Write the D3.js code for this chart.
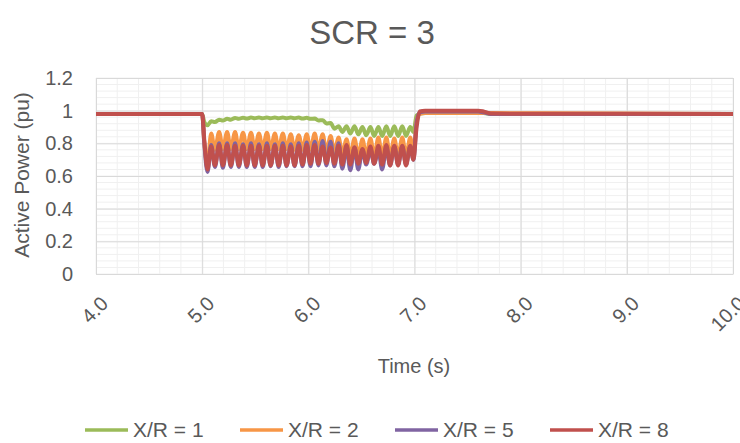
<!DOCTYPE html>
<html lang="en">
<head>
    <meta charset="utf-8">
    <title>SCR = 3</title>
    <script src="https://d3js.org/d3.v7.min.js"></script>
    <style>
        body { margin: 0; background: #fff; }
        text { font-family: "Liberation Sans", Arial, sans-serif; fill: #595959; }
    </style>
</head>
<body>
<svg width="740" height="443"></svg>
<script>
    // time samples (s), shared by all series
    var time = [4.0, 5.0, 5.02, 5.05,
        5.085, 5.12, 5.16, 5.195, 5.235, 5.27, 5.31, 5.345, 5.385, 5.42,
        5.46, 5.495, 5.535, 5.57, 5.61, 5.645, 5.685, 5.72, 5.76, 5.795,
        5.835, 5.87, 5.91, 5.945, 5.985, 6.02, 6.06, 6.095, 6.135, 6.17,
        6.21, 6.245, 6.285, 6.32, 6.36, 6.395, 6.435, 6.47, 6.51, 6.545,
        6.585, 6.62, 6.66, 6.695, 6.735, 6.77, 6.81, 6.845, 6.885, 6.92,
        6.96, 6.99, 7.02, 7.05, 7.10, 7.60, 7.65, 7.72, 10.0];

    var xr1 = [0.98, 0.98, 0.93, 0.91,
        0.935, 0.93, 0.945, 0.94, 0.95, 0.945, 0.955, 0.95, 0.957, 0.952,
        0.958, 0.953, 0.958, 0.953, 0.958, 0.953, 0.958, 0.953, 0.958, 0.953,
        0.958, 0.953, 0.958, 0.952, 0.956, 0.95, 0.952, 0.94, 0.942, 0.922,
        0.925, 0.89, 0.905, 0.87, 0.905, 0.86, 0.905, 0.855, 0.9, 0.85,
        0.9, 0.845, 0.9, 0.845, 0.905, 0.845, 0.905, 0.845, 0.905, 0.845,
        0.9, 0.87, 0.97, 0.982, 0.985, 0.985, 0.985, 0.98, 0.98];

    var xr2 = [0.98, 0.98, 0.80, 0.68,
        0.86, 0.76, 0.87, 0.765, 0.87, 0.765, 0.87, 0.765, 0.865, 0.765,
        0.865, 0.765, 0.86, 0.765, 0.865, 0.765, 0.86, 0.765, 0.86, 0.765,
        0.855, 0.76, 0.85, 0.76, 0.855, 0.76, 0.86, 0.76, 0.855, 0.75,
        0.845, 0.745, 0.835, 0.735, 0.825, 0.72, 0.83, 0.72, 0.825, 0.72,
        0.83, 0.72, 0.835, 0.72, 0.835, 0.72, 0.83, 0.72, 0.835, 0.72,
        0.835, 0.74, 0.94, 0.98, 0.985, 0.985, 0.985, 0.985, 0.98];

    var xr5 = [0.98, 0.98, 0.80, 0.625,
        0.79, 0.655, 0.80, 0.65, 0.80, 0.655, 0.80, 0.655, 0.795, 0.655,
        0.80, 0.655, 0.795, 0.655, 0.80, 0.66, 0.795, 0.655, 0.80, 0.66,
        0.795, 0.66, 0.80, 0.66, 0.805, 0.66, 0.81, 0.665, 0.815, 0.665,
        0.81, 0.66, 0.80, 0.645, 0.78, 0.635, 0.775, 0.64, 0.76, 0.67,
        0.765, 0.675, 0.76, 0.64, 0.775, 0.665, 0.78, 0.67, 0.78, 0.67,
        0.78, 0.70, 0.93, 0.99, 0.995, 0.995, 0.99, 0.98, 0.98];

    var xr8 = [0.98, 0.98, 0.82, 0.64,
        0.78, 0.665, 0.79, 0.665, 0.79, 0.665, 0.785, 0.665, 0.785, 0.665,
        0.785, 0.665, 0.785, 0.665, 0.785, 0.665, 0.785, 0.665, 0.785, 0.665,
        0.78, 0.665, 0.785, 0.67, 0.79, 0.675, 0.79, 0.675, 0.78, 0.68,
        0.775, 0.675, 0.785, 0.67, 0.79, 0.67, 0.775, 0.675, 0.765, 0.68,
        0.78, 0.675, 0.785, 0.67, 0.79, 0.665, 0.785, 0.665, 0.785, 0.665,
        0.785, 0.70, 0.90, 0.995, 1.0, 1.0, 0.995, 0.982, 0.98];

    var seriesNames = ["X/R = 1", "X/R = 2", "X/R = 5", "X/R = 8"];
    var seriesValues = [xr1, xr2, xr5, xr8];
    var colors = ["#9bbb59", "#f79646", "#8064a2", "#c0504d"];
    var xTicks = [4, 5, 6, 7, 8, 9, 10];
    var yTicks = [0, 0.2, 0.4, 0.6, 0.8, 1, 1.2];

    var svg = d3.select("svg");
    var marge = {top: 78, left: 96, right: 7, bottom: 169};
    var width = 740 - marge.left - marge.right;
    var height = 443 - marge.top - marge.bottom;

    var g = svg.append("g")
        .attr("transform", "translate(" + marge.left + "," + marge.top + ")");

    var xScale = d3.scaleLinear().domain([4, 10]).range([0, width]);
    var yScale = d3.scaleLinear().domain([0, 1.2]).range([height, 0]);

    // minor grid
    g.append("g")
        .selectAll("line.hm")
        .data(d3.range(0, 1.2001, 0.04))
        .enter().append("line")
        .attr("x1", 0).attr("x2", width)
        .attr("y1", function(d){ return yScale(d); })
        .attr("y2", function(d){ return yScale(d); })
        .attr("stroke", "#f0f0f0");
    g.append("g")
        .selectAll("line.vm")
        .data(d3.range(4, 10.001, 0.2))
        .enter().append("line")
        .attr("y1", 0).attr("y2", height)
        .attr("x1", function(d){ return xScale(d); })
        .attr("x2", function(d){ return xScale(d); })
        .attr("stroke", "#f0f0f0");

    // major grid
    g.append("g")
        .call(d3.axisLeft(yScale).tickValues(yTicks).tickSize(-width).tickFormat(""))
        .call(function(s){ s.select(".domain").remove(); })
        .selectAll("line").attr("stroke", "#d9d9d9");
    g.append("g")
        .call(d3.axisBottom(xScale).tickValues(xTicks).tickSize(height).tickFormat(""))
        .call(function(s){ s.select(".domain").remove(); })
        .selectAll("line").attr("stroke", "#d9d9d9");

    // y axis labels
    var yAxis = g.append("g")
        .call(d3.axisLeft(yScale).tickValues(yTicks).tickSize(0).tickPadding(23)
            .tickFormat(function(d){ return d3.format("")(+d.toFixed(1)); }));
    yAxis.select(".domain").remove();
    yAxis.selectAll("text").attr("font-size", 20).attr("fill", "#595959")
        .style("font-family", "Liberation Sans, Arial, sans-serif");

    // x axis
    var xAxis = g.append("g")
        .attr("transform", "translate(0," + height + ")")
        .call(d3.axisBottom(xScale).tickValues(xTicks).tickSize(0).tickFormat(d3.format(".1f")));
    xAxis.select(".domain").attr("stroke", "#d9d9d9");
    xAxis.selectAll("text")
        .attr("font-size", 20).attr("fill", "#595959")
        .style("font-family", "Liberation Sans, Arial, sans-serif")
        .attr("text-anchor", "end")
        .attr("dy", "0.35em")
        .attr("y", 0)
        .attr("transform", "translate(8,26) rotate(-45)");

    // lines
    var line = d3.line()
        .x(function(d, i){ return xScale(time[i]); })
        .y(function(d){ return yScale(d); })
        .curve(d3.curveMonotoneX);

    seriesValues.forEach(function(vals, k){
        g.append("path")
            .attr("d", line(vals))
            .attr("fill", "none")
            .attr("stroke", colors[k])
            .attr("stroke-width", 4)
            .attr("stroke-linejoin", "round");
    });

    // titles
    svg.append("text")
        .attr("x", 372).attr("y", 44)
        .attr("text-anchor", "middle")
        .attr("font-size", 33)
        .text("SCR = 3");

    svg.append("text")
        .attr("transform", "translate(29,175) rotate(-90)")
        .attr("text-anchor", "middle")
        .attr("font-size", 21)
        .text("Active  Power (pu)");

    svg.append("text")
        .attr("x", 414).attr("y", 373)
        .attr("text-anchor", "middle")
        .attr("font-size", 20)
        .text("Time  (s)");

    // legend
    var legend = svg.append("g").attr("transform", "translate(85,430)");
    var items = legend.selectAll("g")
        .data(seriesNames)
        .enter().append("g")
        .attr("transform", function(d, i){ return "translate(" + (i * 155) + ",0)"; });
    items.append("line")
        .attr("x1", 0).attr("x2", 43)
        .attr("stroke", function(d, i){ return colors[i]; })
        .attr("stroke-width", 3.5);
    items.append("text")
        .attr("x", 48).attr("dy", "0.35em")
        .attr("font-size", 21)
        .text(function(d){ return d; });
</script>
</body>
</html>
